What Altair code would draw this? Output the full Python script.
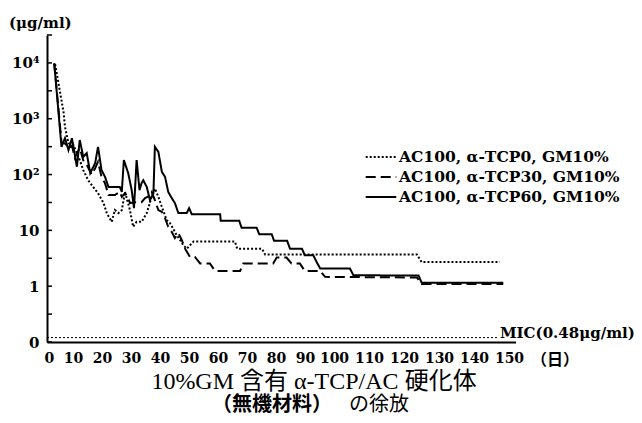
import altair as alt
import pandas as pd

series_names = ["AC100, α-TCP0, GM10%", "AC100, α-TCP30, GM10%", "AC100, α-TCP60, GM10%"]

days_tcp0 = [2.8, 5.7, 6.2, 7.4, 9.1, 11.3, 12.5, 14.2, 15.9, 17.6,
             19.5, 20.6, 22.3, 23.4, 24.6, 25.8, 26.9, 28.6, 29.7, 30.9,
             32.6, 34.4, 36.1, 37.2, 38.4, 39.6, 41.3, 42.4, 43.5, 44.7,
             45.9, 47.0, 48.2, 49.3, 50.5, 64.8, 65.6, 74.1, 75.2, 122.8,
             124.2, 146.5]
vals_tcp0 = [9500, 1320, 716, 365, 337, 182, 120, 79, 60, 46.5,
             30.8, 20.4, 14.2, 23.1, 20.4, 23.1, 49, 23.1, 11.6, 14.2,
             14.2, 20.4, 40, 56, 40, 26.4, 15.2, 13.5, 10.8, 8.2,
             6.7, 5.4, 4.7, 5.4, 6.3, 6.3, 4.7, 4.7, 3.7, 3.7,
             2.7, 2.7]

days_tcp30 = [2.5, 5.0, 6.2, 7.4, 8.6, 9.6, 11.3, 12.5, 13.7, 15.4,
              16.6, 17.6, 18.8, 20.0, 21.2, 23.4, 25.1, 25.8, 26.9, 28.0,
              28.6, 30.4, 32.6, 33.8, 34.8, 36.1, 37.2, 38.4, 39.6, 40.7,
              41.8, 43.0, 44.1, 45.3, 46.5, 47.6, 49.3, 51.0, 52.8, 56.2,
              57.9, 66.6, 67.7, 78.0, 79.2, 82.6, 84.3, 87.2, 88.9, 94.2,
              95.9, 122.8, 124.2, 147.5]
vals_tcp30 = [9800, 380, 360, 300, 330, 200, 300, 180, 150, 100,
              130, 170, 90, 70, 43, 43, 49, 40, 46.5, 38,
              30.8, 32, 32, 38, 40, 49, 34.7, 23.1, 21.5, 16.5,
              11.6, 9.4, 7.3, 8.9, 6.7, 4.7, 3.35, 3.35, 2.55, 2.55,
              1.88, 1.88, 2.55, 2.55, 3.25, 3.25, 2.55, 2.55, 1.88, 1.88,
              1.47, 1.43, 1.09, 1.09]

days_tcp60 = [2.5, 5.0, 6.2, 7.4, 8.6, 10.3, 11.3, 12.5, 13.7, 14.9,
              16.6, 17.6, 18.8, 20.0, 21.2, 25.1, 25.8, 26.5, 28.0, 29.2,
              30.0, 30.9, 31.9, 32.6, 33.2, 34.4, 35.5, 36.7, 37.2, 38.4,
              39.6, 40.7, 41.8, 43.0, 44.1, 45.3, 48.2, 49.0, 49.9, 59.7,
              59.9, 66.3, 67.1, 72.3, 73.2, 77.5, 78.3, 82.8, 83.8, 87.9,
              88.9, 91.8, 93.0, 94.2, 103.7, 104.7, 123.3, 124.2, 147.5]
vals_tcp60 = [9800, 314, 448, 274, 448, 138, 416, 208, 242, 106,
              160, 314, 120, 91, 60, 60, 49, 182, 106, 52.6,
              25, 182, 52.6, 70, 79, 60, 34.7, 46.5, 314, 255,
              112, 91, 49, 38, 30.8, 20.4, 20.4, 25, 19.5, 19.5,
              14.8, 14.8, 11.1, 11.1, 8.5, 8.5, 6.5, 6.5, 4.7, 4.7,
              3.6, 3.6, 2.7, 2.07, 2.07, 1.57, 1.55, 1.15, 1.15]

x_tick_values = [0, 10, 20, 30, 40, 50, 60, 70, 80, 90, 100, 110, 120, 130, 140, 150]
y_label_values = [0.1, 1, 10, 100, 1000, 10000]
y_label_texts = ["0", "1", "10", "10²", "10³", "10⁴"]
y_tick_values = [0.1, 0.316, 1, 3.16, 10, 31.6, 100, 316, 1000, 3162, 10000, 31623]

mic_level = 0.12
mic_end_day = 146

unit_label = "(μg/ml)"
mic_label = "MIC(0.48μg/ml)"
x_unit_label = "（日）"
title_line1 = "10%GM 含有 α-TCP/AC 硬化体"
title_line2a = "（無機材料）"
title_line2b = "の徐放"

rows = []
for name, ds, vs in zip(series_names,
                        [days_tcp0, days_tcp30, days_tcp60],
                        [vals_tcp0, vals_tcp30, vals_tcp60]):
    for i, (d, v) in enumerate(zip(ds, vs)):
        rows.append({"series": name, "day": d, "value": v, "order": i})
df = pd.DataFrame(rows)

label_expr = " : ".join(
    f"datum.value < {v * 3:g} ? '{t}'" for v, t in zip(y_label_values[:-1], y_label_texts[:-1])
) + f" : '{y_label_texts[-1]}'"

SERIF = "DejaVu Serif"

# the printed day axis is stretched after day 100
x_scale = alt.Scale(domain=[0, 100, 151], range=[0, 290, 468.5], nice=False, zero=False)
y_scale = alt.Scale(type="log", domain=[0.1, 31623], nice=False)

x_axis = alt.Axis(values=x_tick_values, title=None, ticks=False, grid=False,
                  labelFont=SERIF, labelFontWeight="bold", labelFontSize=14,
                  labelColor="black", labelPadding=9, labelOverlap=False, labelOffset=-3,
                  domainColor="black", domainWidth=2)
y_axis = alt.Axis(values=y_label_values, labelExpr=label_expr, title=None,
                  ticks=False, grid=False, labelFont=SERIF, labelFontWeight="bold",
                  labelFontSize=15, labelColor="black", labelPadding=8,
                  labelOverlap=False, domainColor="black", domainWidth=2)


def xq(field):
    return alt.X(field, type="quantitative", scale=x_scale, axis=x_axis)


def yq(field):
    return alt.Y(field, type="quantitative", scale=y_scale, axis=y_axis)


lines = alt.Chart(df).mark_line(color="black", strokeWidth=2, strokeCap="butt").encode(
    x=xq("day"),
    y=yq("value"),
    strokeDash=alt.StrokeDash(
        "series:N",
        scale=alt.Scale(domain=series_names, range=[[2, 2], [10, 5], [1, 0]]),
        legend=alt.Legend(title=None, orient="none", legendX=324, legendY=112,
                          symbolType="M-1.7,0H1.7", symbolSize=324, symbolStrokeWidth=2,
                          symbolStrokeColor="black", symbolFillColor="transparent",
                          labelFont=SERIF, labelFontWeight="bold", labelFontSize=15.5,
                          labelColor="black", labelOffset=8, rowPadding=1, padding=0,
                          labelLimit=400),
    ),
    order="order:Q",
)

ticks = alt.Chart(pd.DataFrame({"t": y_tick_values})).mark_rule(
    color="black", strokeWidth=1.5).encode(
    y=yq("t"),
    x=alt.value(0), x2=alt.value(5),
)

mic = alt.Chart(pd.DataFrame({"y": [mic_level], "x0": [0], "x1": [mic_end_day]})).mark_rule(
    color="black", strokeWidth=1, strokeDash=[2, 2]).encode(
    y=yq("y"),
    x=xq("x0"),
    x2="x1:Q",
)


def text_layer(txt, x, y, align, size, weight, font, baseline="middle"):
    return alt.Chart(pd.DataFrame({"t": [txt]})).mark_text(
        align=align, baseline=baseline, fontSize=size, fontWeight=weight, font=font,
        color="black").encode(x=alt.value(x), y=alt.value(y), text="t:N")


texts = [
    text_layer(unit_label, -38, -12, "left", 15, "bold", SERIF),
    text_layer(mic_label, 453, 298, "left", 15, "bold", SERIF),
    text_layer(x_unit_label, 508, 325, "center", 16, "bold", "Noto Sans CJK JP"),
    text_layer(title_line1, 267, 347, "center", 24, "normal", "Liberation Serif, Noto Sans CJK JP"),
    text_layer(title_line2a, 285, 370, "right", 20, "bold", "Noto Sans CJK JP"),
    text_layer(title_line2b, 302, 370, "left", 20, "normal", "Noto Sans CJK JP"),
]

chart = alt.layer(lines, mic, ticks, *texts).properties(
    width=468, height=307,
    autosize=alt.AutoSizeParams(type="none"),
    padding={"left": 39, "top": 27, "right": 119, "bottom": 73},
).configure_view(stroke=None)

chart.save("out.html", embed_options={"renderer": "svg", "actions": False})
